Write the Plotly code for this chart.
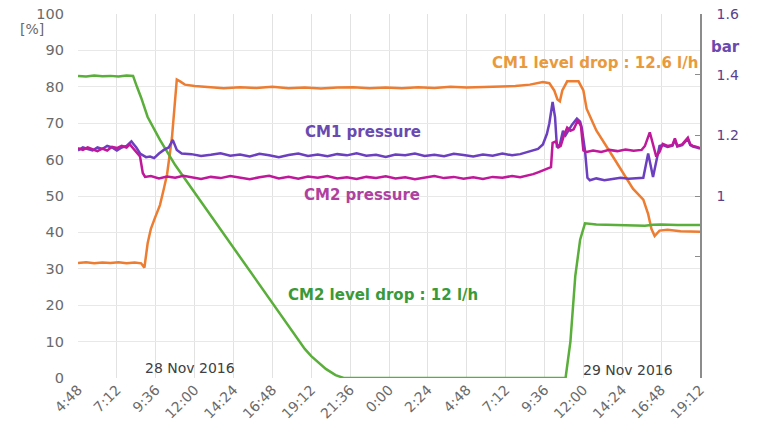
import plotly.graph_objects as go

# ---- data (hours since 28 Nov 2016 4:48) ----
tick_vals = [0, 2.4, 4.8, 7.2, 9.6, 12.0, 14.4, 16.8, 19.2, 21.6, 24.0, 26.4, 28.8, 31.2, 33.6, 36.0, 38.4]
tick_text = ["4:48", "7:12", "9:36", "12:00", "14:24", "16:48", "19:12", "21:36", "0:00",
             "2:24", "4:48", "7:12", "9:36", "12:00", "14:24", "16:48", "19:12"]

cm2_level_t = [0, 0.5, 1.0, 1.5, 2.0, 2.5, 3.0, 3.4, 3.64, 3.9, 4.3, 5.06, 6.0, 7.1, 8, 9, 10, 11, 12, 13, 14.0,
               14.4, 14.8, 15.3, 15.9, 16.4, 20, 25, 30.1, 30.4, 30.7, 31.0, 31.3, 32, 33, 34, 35, 35.5, 36, 37, 38.4]
cm2_level = [83.0, 82.8, 83.1, 82.9, 83.0, 82.8, 83.1, 83.0, 80.0, 77.0, 71.7, 65.4, 58.5, 51.6, 45.9, 39.6, 33.3,
             27.0, 20.6, 14.3, 8.0, 6.0, 4.5, 2.5, 0.8, 0.0, 0.0, 0.0, 0.0, 10.0, 28.0, 38.0, 42.5, 42.2, 42.0,
             41.9, 41.8, 42.1, 42.2, 42.0, 42.0]

cm1_level_t = [0, 0.5, 1.0, 1.5, 2.0, 2.5, 3.0, 3.5, 3.9, 4.1, 4.3, 4.5, 4.75, 5.06, 5.3, 5.5, 5.8, 6.0, 6.1, 6.3,
               6.6, 7.2, 8, 9, 10, 11, 12, 13, 14, 15, 16, 17, 18, 19, 20, 21, 22, 23, 24, 25, 26, 27, 27.9,
               28.7, 29.1, 29.4, 29.6, 29.75, 29.9, 30.2, 30.9, 31.2, 31.4, 32.0, 33.0, 34.26, 34.9, 35.2, 35.4,
               35.6, 35.9, 36.4, 37.2, 38.4]
cm1_level = [31.6, 31.8, 31.5, 31.7, 31.6, 31.8, 31.5, 31.7, 31.5, 30.3, 37.0, 41.0, 44.0, 47.5, 52.0, 56.0, 66.0,
             76.0, 82.0, 81.5, 80.6, 80.2, 79.9, 79.6, 79.9, 79.7, 80.0, 79.6, 79.8, 79.5, 79.8, 79.9, 79.6, 79.8,
             79.6, 79.9, 79.7, 80.0, 79.8, 79.9, 80.1, 80.2, 80.6, 81.3, 81.0, 79.0, 76.5, 76.0, 79.0, 81.5, 81.5,
             79.0, 74.0, 68.0, 61.0, 52.0, 49.0, 45.0, 41.0, 39.0, 40.5, 40.7, 40.3, 40.2]

cm1_press_t = [0, 0.3, 0.6, 0.9, 1.2, 1.5, 1.8, 2.1, 2.4, 2.7, 3.0, 3.3, 3.45, 3.6, 3.83, 4.0, 4.2, 4.45, 4.7,
               5.0, 5.3, 5.6, 5.85, 6.1, 6.4, 7.0, 7.6, 8.2, 8.8, 9.4, 10.0, 10.6, 11.2, 11.8, 12.4, 13.0,
               13.6, 14.2, 14.8, 15.4, 16.0, 16.6, 17.2, 17.8, 18.4, 19.0, 19.6, 20.2, 20.8, 21.4, 22.0,
               22.6, 23.2, 23.8, 24.4, 25.0, 25.6, 26.2, 26.8, 27.3, 27.8, 28.1, 28.4, 28.7, 28.95, 29.1,
               29.3, 29.45, 29.57, 29.75, 29.94, 30.1, 30.3, 30.5, 30.8, 31.0, 31.1, 31.3, 31.45, 31.6, 32.0,
               32.5, 33.0, 33.5, 34.0, 34.5, 34.9, 35.2, 35.5, 35.9, 36.1, 36.4, 36.7, 36.85, 37.0, 37.3,
               37.65, 37.8, 37.96, 38.2, 38.4]
cm1_press = [1.150, 1.160, 1.155, 1.150, 1.160, 1.155, 1.165, 1.160, 1.150, 1.160, 1.165, 1.180, 1.170, 1.160,
             1.140, 1.135, 1.128, 1.130, 1.125, 1.140, 1.152, 1.160, 1.185, 1.152, 1.140, 1.138, 1.132, 1.136,
             1.141, 1.133, 1.137, 1.130, 1.139, 1.134, 1.128, 1.135, 1.140, 1.132, 1.137, 1.131, 1.138, 1.134,
             1.141, 1.133, 1.136, 1.129, 1.137, 1.134, 1.140, 1.132, 1.136, 1.131, 1.139, 1.135, 1.130, 1.137,
             1.133, 1.140, 1.134, 1.138, 1.145, 1.150, 1.155, 1.170, 1.205, 1.240, 1.310, 1.260, 1.160, 1.170,
             1.215, 1.200, 1.220, 1.235, 1.255, 1.245, 1.225, 1.150, 1.060, 1.052, 1.058, 1.052, 1.056, 1.060,
             1.057, 1.060, 1.060, 1.140, 1.063, 1.165, 1.168, 1.162, 1.166, 1.185, 1.163, 1.168, 1.188, 1.168,
             1.163, 1.160, 1.156]

cm2_press_t = [0, 0.3, 0.6, 0.9, 1.2, 1.5, 1.8, 2.1, 2.4, 2.7, 3.0, 3.2, 3.5, 3.83, 4.0, 4.14, 4.5, 5.0, 5.5,
               6.0, 6.5, 7.0, 7.6, 8.2, 8.8, 9.4, 10.0, 10.6, 11.2, 11.8, 12.4, 13.0, 13.6, 14.2, 14.8, 15.4,
               16.0, 16.6, 17.2, 17.8, 18.4, 19.0, 19.6, 20.2, 20.8, 21.4, 22.0, 22.6, 23.2, 23.8, 24.4, 25.0,
               25.6, 26.2, 26.8, 27.3, 27.8, 28.1, 28.4, 28.7, 29.0, 29.2, 29.3, 29.5, 29.65, 29.8, 30.0, 30.2,
               30.4, 30.6, 30.86, 31.05, 31.2, 31.4, 31.8, 32.3, 32.8, 33.3, 33.8, 34.3, 34.8, 35.0, 35.3, 35.5,
               35.7, 35.9, 36.1, 36.4, 36.7, 36.85, 37.0, 37.3, 37.65, 37.8, 37.96, 38.2, 38.4]
cm2_press = [1.158, 1.152, 1.160, 1.155, 1.148, 1.156, 1.150, 1.162, 1.158, 1.165, 1.160, 1.170, 1.152, 1.130,
             1.076, 1.063, 1.066, 1.058, 1.064, 1.060, 1.067, 1.061, 1.056, 1.063, 1.059, 1.066, 1.060, 1.055,
             1.062, 1.067, 1.058, 1.063, 1.057, 1.064, 1.060, 1.066, 1.058, 1.062, 1.056, 1.063, 1.059, 1.065,
             1.058, 1.062, 1.055, 1.061, 1.066, 1.059, 1.063, 1.057, 1.062, 1.056, 1.063, 1.060, 1.066, 1.062,
             1.068, 1.072, 1.078, 1.085, 1.090, 1.095, 1.175, 1.180, 1.160, 1.165, 1.200, 1.225, 1.215, 1.220,
             1.250, 1.230, 1.150, 1.145, 1.150, 1.145, 1.152, 1.148, 1.153, 1.149, 1.152, 1.165, 1.210, 1.170,
             1.130, 1.145, 1.172, 1.165, 1.168, 1.190, 1.165, 1.170, 1.192, 1.170, 1.165, 1.162, 1.158]

# ---- styling ----
ORANGE = "#ED7D31"
GREEN = "#5AAE3A"
PURPLE = "#6B3FBF"
MAGENTA = "#C0189A"
TICK = "#6a6a6a"
FONT = "DejaVu Sans"

fig = go.Figure()
fig.add_trace(go.Scatter(x=cm1_level_t, y=cm1_level, mode="lines", line=dict(color=ORANGE, width=2.5), name="CM1 level"))
fig.add_trace(go.Scatter(x=cm2_level_t, y=cm2_level, mode="lines", line=dict(color=GREEN, width=2.5), name="CM2 level"))
fig.add_trace(go.Scatter(x=cm1_press_t, y=cm1_press, mode="lines", line=dict(color=PURPLE, width=2.5), yaxis="y2", name="CM1 pressure"))
fig.add_trace(go.Scatter(x=cm2_press_t, y=cm2_press, mode="lines", line=dict(color=MAGENTA, width=2.5), yaxis="y2", name="CM2 pressure"))

fig.update_layout(
    width=762, height=434,
    margin=dict(l=78, r=62, t=14, b=56, autoexpand=False),
    paper_bgcolor="white", plot_bgcolor="white",
    showlegend=False,
    font=dict(family=FONT, size=14, color=TICK),
    xaxis=dict(range=[0, 38.4], tickmode="array", tickvals=tick_vals, ticktext=tick_text,
               tickangle=-45, showgrid=True, gridcolor="#e2e2e2", gridwidth=1, zeroline=False,
               showline=False, ticks="", tickfont=dict(size=14, color=TICK), automargin=False),
    yaxis=dict(range=[0, 100], dtick=10, showgrid=True, gridcolor="#e8e8e8", zeroline=False,
               showline=False, ticks="", ticklabelstandoff=13, tickfont=dict(size=14.5, color=TICK),
               automargin=False),
    yaxis2=dict(range=[0.4, 1.6], overlaying="y", side="right", tickmode="array",
                tickvals=[0.8, 1.0, 1.2, 1.4, 1.6], ticktext=["", "1", "1.2", "1.4", "1.6"],
                showgrid=False, zeroline=False, showline=True, linecolor="#8c8c8c", linewidth=1.5,
                ticks="inside", ticklen=5, tickcolor="#8c8c8c", ticklabelstandoff=12,
                tickfont=dict(size=14, color="#5B3F8C"), automargin=False),
)

annos = [
    dict(x=31.9, y=86.5, text="CM1 level drop : 12.6 l/h", color="#E89A3C"),
    dict(x=17.6, y=67.5, text="CM1 pressure", color="#6A4AB0"),
    dict(x=17.55, y=50.3, text="CM2 pressure", color="#B040A0"),
    dict(x=18.8, y=22.8, text="CM2 level drop : 12 l/h", color="#3A9A3A"),
]
for a in annos:
    fig.add_annotation(x=a["x"], y=a["y"], xref="x", yref="y", text="<b>" + a["text"] + "</b>",
                       showarrow=False, xanchor="center", yanchor="middle",
                       font=dict(family=FONT, size=15, color=a["color"]))

fig.add_annotation(x=6.9, y=2.7, xref="x", yref="y", text="28 Nov 2016", showarrow=False,
                   font=dict(family=FONT, size=14, color="#404040"))
fig.add_annotation(x=33.95, y=2.3, xref="x", yref="y", text="29 Nov 2016", showarrow=False,
                   font=dict(family=FONT, size=14, color="#404040"))
fig.add_annotation(x=-0.096, y=0.985, xref="paper", yref="paper", text="[%]", showarrow=False,
                   font=dict(family=FONT, size=14, color=TICK))
fig.add_annotation(x=1.0675, y=0.94, xref="paper", yref="paper", text="<b>bar</b>", showarrow=False,
                   font=dict(family=FONT, size=15, color="#6A4AB0"))

fig.write_html("out.html", config={"displayModeBar": False},
               post_script="document.body.style.margin='0';")
